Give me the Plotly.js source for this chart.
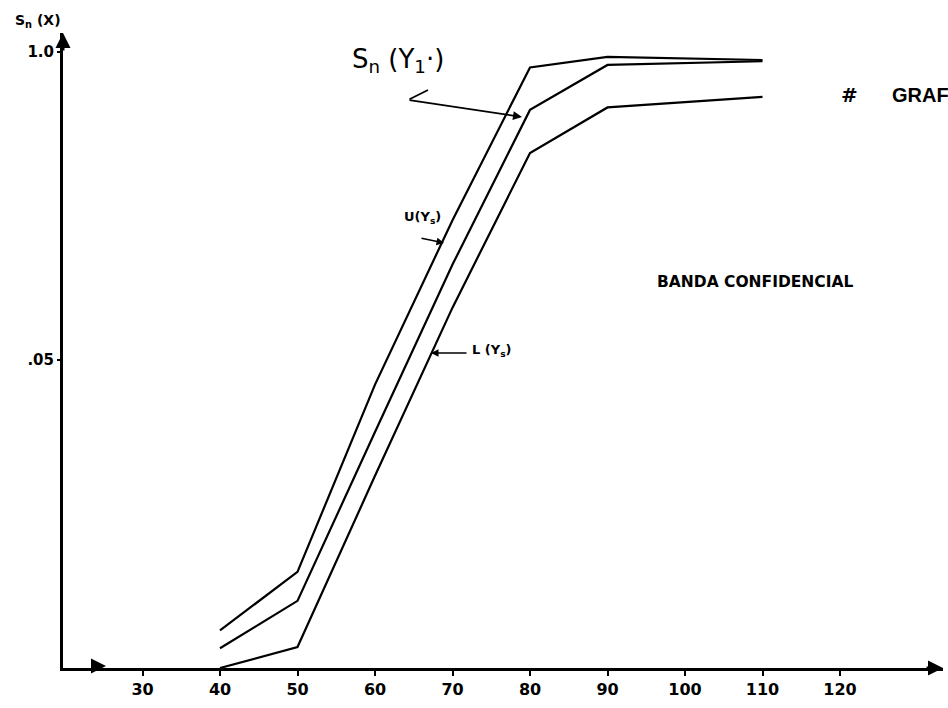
<!DOCTYPE html>
<html>
<head>
<meta charset="utf-8">
<script src="https://cdn.plot.ly/plotly-3.0.1.min.js"></script>
<style>html,body{margin:0;padding:0;background:#fff;}#chart{width:948px;height:708px;}</style>
</head>
<body>
<div id="chart"></div>
<script>
// ---- data ----
const xValues   = [40, 50, 60, 70, 80, 90, 110];
const upperU    = [0.061, 0.156, 0.46, 0.727, 0.975, 0.992, 0.987];
const empiricSn = [0.032, 0.109, 0.383, 0.655, 0.906, 0.979, 0.985];
const lowerL    = [0.0, 0.034, 0.312, 0.585, 0.836, 0.910, 0.927];
const xTickVals = [30, 40, 50, 60, 70, 80, 90, 100, 110, 120];
const xTickText = ['30', '40', '50', '60', '70', '80', '90', '100', '110', '120'];
const yTickVals = [0.5, 1.0];
const yTickText = ['.05', '1.0'];

// ---- layout geometry (pixels) ----
const W = 948, H = 708;
const M = {l: 63, r: 5, t: 33, b: 40};
const PW = W - M.l - M.r, PH = H - M.t - M.b;
const px = x => (x - M.l) / PW;          // pixel -> paper x
const py = y => (H - M.b - y) / PH;      // pixel -> paper y

const lineStyle = {color: '#000', width: 2.2};
const mk = (y, name) => ({x: xValues, y: y, name: name, type: 'scatter', mode: 'lines', line: lineStyle, hoverinfo: 'skip'});
const traces = [mk(upperU, 'U(Y)'), mk(empiricSn, 'Sn(Y)'), mk(lowerL, 'L(Y)')];

const FAM = 'DejaVu Sans, Arial, sans-serif';
const bold = (s) => ({family: FAM, size: s, color: '#000', weight: 'bold'});
const ann = [];
function txt(text, x, y, size, anchor, fam, weight) {
  ann.push({xref: 'paper', yref: 'paper', x: px(x), y: py(y), text: text, showarrow: false,
    xanchor: anchor || 'center', yanchor: 'middle',
    font: {family: fam || FAM, size: size, color: '#000', weight: weight || 'bold'}});
}
function arrow(hx, hy, tx, ty, w, head) {
  ann.push({xref: 'paper', yref: 'paper', x: px(hx), y: py(hy), ax: tx - hx, ay: ty - hy, text: '',
    showarrow: true, arrowhead: head === undefined ? 2 : head, arrowsize: 1, arrowwidth: w || 1.5, arrowcolor: '#000', standoff: 0});
}

// axis arrowheads
arrow(943, H - M.b, 925, H - M.b, 3, 2);
arrow(M.l, 33, M.l, 52, 3, 2);
// small marker on x axis
arrow(106, 666, 96, 666, 3, 2);

// titles / labels
txt('S<sub>n</sub> (X)', 38, 21, 14);
txt('S<sub>n</sub> (Y<sub>1</sub>·)', 398, 60, 26, 'center', FAM, 'normal');
arrow(522, 117, 408, 100, 1.8, 2);
arrow(428, 90, 408, 100, 1.8, 0);
txt('U(Y<sub>s</sub>)', 402, 217, 13, 'left');
arrow(444, 243, 420, 238, 1.5, 2);
txt('L (Y<sub>s</sub>)', 470, 350, 13, 'left');
arrow(431, 353, 468, 353, 1.5, 2);
txt('BANDA CONFIDENCIAL', 755, 282, 15.5);
txt('#', 849, 95, 20);
txt('GRAF', 890, 95, 20, 'left', 'Liberation Sans, Arial, sans-serif', 'bold');

const layout = {
  width: W, height: H,
  margin: M,
  paper_bgcolor: '#fff', plot_bgcolor: '#fff',
  showlegend: false,
  font: {family: FAM, size: 14, color: '#000'},
  xaxis: {
    range: [40 - (220 - M.l) / 7.75, 40 + (943 - 220) / 7.75],
    tickmode: 'array', tickvals: xTickVals, ticktext: xTickText,
    showgrid: false, zeroline: false, showline: true, linecolor: '#000', linewidth: 3,
    ticks: 'outside', ticklen: 5, tickwidth: 2, tickcolor: '#000',
    tickfont: bold(16), fixedrange: true
  },
  yaxis: {
    range: [0, PH / 616],
    tickmode: 'array', tickvals: yTickVals, ticktext: yTickText,
    showgrid: false, zeroline: false, showline: true, linecolor: '#000', linewidth: 3,
    ticks: 'outside', ticklen: 3, tickwidth: 2, tickcolor: '#000',
    tickfont: bold(15), fixedrange: true
  },
  annotations: ann
};

Plotly.newPlot('chart', traces, layout, {staticPlot: true, displayModeBar: false});
</script>
</body>
</html>
